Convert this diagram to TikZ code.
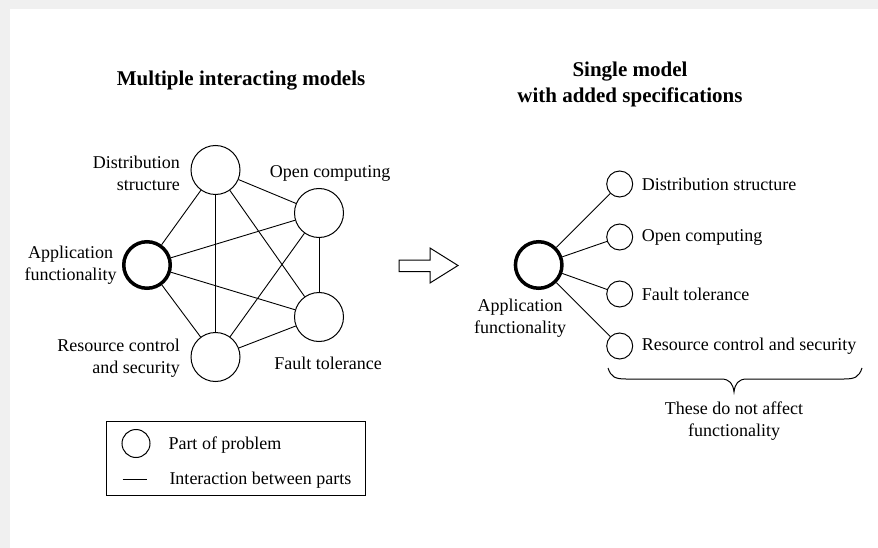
\documentclass[tikz,border=0pt]{standalone}
\usepackage{fontspec}
\setmainfont{Liberation Serif}
\begin{document}
\begin{tikzpicture}[x=1pt,y=-1pt,
  part/.style={circle, draw, line width=1pt, minimum size=49pt, inner sep=0pt},
  mainpart/.style={circle, draw, line width=3.5pt, minimum size=46.5pt, inner sep=0pt},
  smallpart/.style={circle, draw, line width=1pt, minimum size=26pt, inner sep=0pt},
  keypart/.style={circle, draw, line width=1pt, minimum size=28pt, inner sep=0pt},
  lbl/.style={font=\fontsize{18}{22}\selectfont, inner sep=0pt},
  ttl/.style={font=\fontsize{21}{26}\selectfont\bfseries, inner sep=0pt, align=center},
  link/.style={line width=0.9pt}]
  % page background with grey margin strip
  \fill[black!6] (0,0) rectangle (878,548);
  \fill[white] (10,9) rectangle (878,548);
  \useasboundingbox (0,0) rectangle (878,548);

  % titles
  \node[ttl] (ttlL) at (241,80.5) {Multiple interacting models};
  \node[ttl] (ttlR) at (630,84) {Single model\\with added specifications};

  % ---- left: fully connected model ----
  \node[part] (dist) at (215.5,170) {};
  \node[part] (open) at (319,213) {};
  \node[mainpart] (app) at (147,265) {};
  \node[part] (fault) at (319,317) {};
  \node[part] (res) at (215.5,357) {};

  \foreach \a/\b in {dist/open, dist/app, dist/res, dist/fault,
                     open/app, open/fault, open/res,
                     app/fault, app/res, fault/res}
    \draw[link] (\a) -- (\b);

  \node[lbl, align=right, anchor=east] (distL) at (180,173) {Distribution\\structure};
  \node[lbl] (openL) at (330,173) {Open computing};
  \node[lbl, align=center] (appL) at (70.5,265) {Application\\functionality};
  \node[lbl, align=right, anchor=east] (resL) at (180,358) {Resource control\\and security};
  \node[lbl] (faultL) at (328,363) {Fault tolerance};

  % legend
  \node[draw, line width=1pt, minimum width=259.3pt, minimum height=74.3pt, inner sep=0pt]
    (legend) at (236.3,458.8) {};
  \node[keypart] (keyc) at (136,443.5) {};
  \node[lbl, anchor=west] (keycL) at (168.3,445) {Part of problem};
  \coordinate (keyA) at (122.7,479.3);
  \coordinate (keyB) at (147.3,479.3);
  \draw[link] (keyA) -- (keyB);
  \node[lbl, anchor=west] (keylL) at (169.3,480) {Interaction between parts};

  % hollow block arrow
  \draw[line width=1pt, line join=miter]
    (399,260) -- (430,260) -- (430,248) -- (458,265.5) -- (430,283)
    -- (430,271.5) -- (399,271.5) -- cycle;

  % ---- right: single model with specifications ----
  \node[mainpart] (rapp) at (538.7,265) {};
  \node[smallpart] (rdist) at (619.7,184) {};
  \node[smallpart] (ropen) at (619.7,237) {};
  \node[smallpart] (rfault) at (619.7,294) {};
  \node[smallpart] (rres) at (619.7,346) {};
  \foreach \b in {rdist, ropen, rfault, rres}
    \draw[link] (rapp) -- (\b);

  \node[lbl, anchor=west] (rdistL) at (641.7,184) {Distribution structure};
  \node[lbl, anchor=west] (ropenL) at (641.7,237) {Open computing};
  \node[lbl, anchor=west] (rfaultL) at (641.7,294) {Fault tolerance};
  \node[lbl, anchor=west] (rresL) at (641.7,346) {Resource control and security};
  \node[lbl, align=center] (rappL) at (520,318) {Application\\functionality};

  % curly brace under the specifications
  \draw[line width=1pt]
    (608,368) .. controls (611,377) and (615,379) .. (626,379)
    -- (721,379) .. controls (730,379) and (733,384) .. (734,392)
    .. controls (735,384) and (738,379) .. (747,379)
    -- (844,379) .. controls (855,379) and (859,377) .. (862,368);
  \node[lbl, align=center] (braceL) at (734,421.5) {These do not affect\\functionality};
\end{tikzpicture}
\end{document}
